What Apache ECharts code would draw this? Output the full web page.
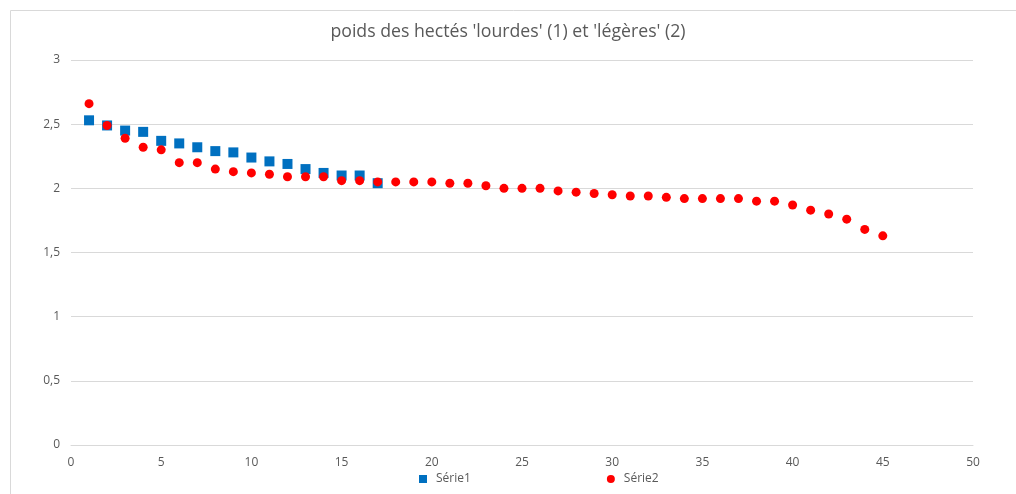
<!DOCTYPE html>
<html>
<head>
<meta charset="utf-8">
<script src="https://cdn.jsdelivr.net/npm/echarts@6/dist/echarts.min.js"></script>
<style>
  html, body { margin: 0; padding: 0; background: #fff; }
</style>
</head>
<body>
<div id="ChartA" style="width: 1016px; height: 494px;"></div>
<script>
// poids des hectés, série 1 = lourdes, série 2 = légères
const serie1X = [1, 2, 3, 4, 5, 6, 7, 8, 9, 10, 11, 12, 13, 14, 15, 16, 17]
const serie1Y = [2.53, 2.49, 2.45, 2.44, 2.37, 2.35, 2.32, 2.29, 2.28, 2.24, 2.21, 2.19, 2.15, 2.12, 2.10, 2.10, 2.04]

const serie2X = [1, 2, 3, 4, 5, 6, 7, 8, 9, 10, 11, 12, 13, 14, 15, 16, 17, 18, 19, 20, 21, 22, 23,
  24, 25, 26, 27, 28, 29, 30, 31, 32, 33, 34, 35, 36, 37, 38, 39, 40, 41, 42, 43, 44, 45]
const serie2Y = [2.66, 2.49, 2.39, 2.32, 2.30, 2.20, 2.20, 2.15, 2.13, 2.12, 2.11, 2.09, 2.09, 2.09, 2.06, 2.06, 2.05, 2.05, 2.05, 2.05, 2.04, 2.04, 2.02,
  2.00, 2.00, 2.00, 1.98, 1.97, 1.96, 1.95, 1.94, 1.94, 1.93, 1.92, 1.92, 1.92, 1.92, 1.90, 1.90, 1.87, 1.83, 1.80, 1.76, 1.68, 1.63]

const pairs = (xs, ys) => xs.map((x, i) => [x, ys[i]])

const ChartA = echarts.init(document.getElementById('ChartA'))
ChartA.setOption({
  animation: false,
  textStyle: { fontFamily: 'Open Sans' },
  graphic: [
    {
      type: 'rect',
      shape: { x: 10.5, y: 10.5, width: 1020, height: 500 },
      style: { fill: 'none', stroke: '#d9d9d9', lineWidth: 1 }
    }
  ],
  title: {
    text: "poids des hectés 'lourdes' (1) et 'légères' (2)",
    left: 'center',
    top: 18,
    textStyle: { fontSize: 17.7, fontWeight: 'normal', color: '#595959', fontFamily: 'Open Sans' }
  },
  legend: {
    left: 414,
    top: 468,
    itemWidth: 8,
    itemHeight: 8,
    itemGap: 136,
    textStyle: { fontSize: 12, color: '#595959', padding: [0, 0, 0, 4] },
    data: [
      { name: 'Série1', icon: 'rect' },
      { name: 'Série2', icon: 'circle' }
    ]
  },
  grid: { left: 71, right: 43, top: 60, bottom: 49 },
  xAxis: {
    type: 'value',
    min: 0,
    max: 50,
    interval: 5,
    axisLine: { lineStyle: { color: '#d9d9d9' } },
    axisTick: { show: false },
    axisLabel: { color: '#595959', fontSize: 12, margin: 12 },
    splitLine: { show: false }
  },
  yAxis: {
    type: 'value',
    min: 0,
    max: 3,
    interval: 0.5,
    axisLine: { show: false },
    axisTick: { show: false },
    axisLabel: {
      color: '#595959',
      fontSize: 12,
      margin: 11,
      formatter: v => String(v).replace('.', ',')
    },
    splitLine: { lineStyle: { color: '#d9d9d9' } }
  },
  series: [
    {
      name: 'Série1',
      type: 'scatter',
      symbol: 'rect',
      symbolSize: 10,
      itemStyle: { color: '#0070c0', opacity: 1 },
      data: pairs(serie1X, serie1Y)
    },
    {
      name: 'Série2',
      type: 'scatter',
      symbol: 'circle',
      symbolSize: 9,
      itemStyle: { color: '#ff0000', opacity: 1 },
      data: pairs(serie2X, serie2Y)
    }
  ]
})
</script>
</body>
</html>
